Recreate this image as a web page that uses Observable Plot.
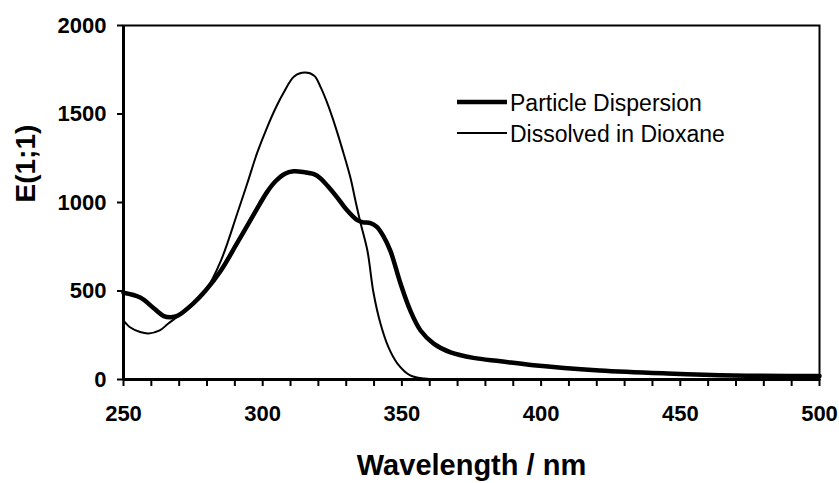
<!DOCTYPE html>
<html>
<head>
<meta charset="utf-8">
<script src="https://cdn.jsdelivr.net/npm/d3@7"></script>
<script src="https://cdn.jsdelivr.net/npm/@observablehq/plot@0.6"></script>
<style>
  html, body { margin: 0; padding: 0; background: #fff; }
  #wrap { position: relative; width: 839px; height: 483px; }
  #legend { position: absolute; left: 0; top: 0; }
</style>
</head>
<body>
<div id="wrap"></div>
<script>
// ---- Data ----
const seriesNames = ["Particle Dispersion", "Dissolved in Dioxane"];

const wavelengthPD = [250, 256, 261, 264.5, 267, 269.4, 275, 279.5, 285, 290.8, 296.7, 301.6, 304.6, 308, 311, 314.7, 318.4, 320.8, 323.5, 326.8, 330, 334, 336, 338.7, 341, 343.4, 345.9, 349.5, 353, 356.7, 361.4, 367.5, 375.7, 385.5, 397.3, 421, 445.4, 469, 500];
const valuesPD     = [490, 463, 401, 358, 352, 360, 429, 503, 616, 770, 930, 1060, 1120, 1163, 1176, 1172, 1160, 1136, 1090, 1028, 962, 900, 888, 884, 862, 808, 725, 542, 390, 277, 203, 153, 122, 103, 80, 51, 34, 23, 20];

const wavelengthDX = [250, 252.5, 256, 259, 263, 266, 269.5, 275, 279.5, 285, 290.8, 294.5, 298, 301.6, 305, 307.5, 311.3, 315.2, 318.5, 320.8, 323, 325, 328.7, 331.5, 333.3, 335.1, 337.6, 339.8, 342.3, 345.2, 348.4, 353, 358, 365, 400, 450, 500];
const valuesDX     = [333, 294, 268, 260, 277, 315, 356, 429, 503, 672, 935, 1110, 1280, 1425, 1545, 1620, 1712, 1734, 1716, 1652, 1570, 1482, 1296, 1141, 1011, 887, 729, 490, 316, 181, 90, 23, 5, 0, 0, 0, 0];

const xTicks = d3.range(250, 501, 10);
const xLabelTicks = [250, 300, 350, 400, 450, 500];
const yTicks = [0, 500, 1000, 1500, 2000];

const xTitle = "Wavelength / nm";
const yTitle = "E(1;1)";

// ---- Build tables ----
const pd = wavelengthPD.map((w, i) => ({w, v: valuesPD[i], s: seriesNames[0]}));
const dx = wavelengthDX.map((w, i) => ({w, v: valuesDX[i], s: seriesNames[1]}));

const FONT = "'Liberation Sans', Arial, Helvetica, sans-serif";

const chart = Plot.plot({
  width: 839,
  height: 483,
  marginLeft: 123,
  marginRight: 20,
  marginTop: 25,
  marginBottom: 104,
  style: {fontFamily: FONT, fontSize: "22px", fontWeight: "bold", color: "black", background: "white", overflow: "visible"},
  x: {domain: [250, 500]},
  y: {domain: [0, 2000]},
  marks: [
    Plot.line(dx, {x: "w", y: "v", stroke: "black", strokeWidth: 2, curve: "catmull-rom"}),
    Plot.line(pd, {x: "w", y: "v", stroke: "black", strokeWidth: 4.5, curve: "catmull-rom"}),
    Plot.frame({stroke: "black", strokeWidth: 2}),
    Plot.ruleX([250], {stroke: "black", strokeWidth: 3}),
    Plot.ruleY([0], {stroke: "black", strokeWidth: 3}),
    Plot.axisX({ticks: xTicks, tickSize: 7, tickPadding: 19, strokeWidth: 2,
      tickFormat: d => xLabelTicks.includes(d) ? String(d) : "", label: null}),
    Plot.axisY({ticks: yTicks, tickSize: 6, tickPadding: 11, strokeWidth: 2,
      tickFormat: d => String(d), label: null}),
    Plot.text([xTitle], {frameAnchor: "bottom", dy: 86, text: d => d, fontSize: 29, fontWeight: "bold", lineAnchor: "middle"}),
    Plot.text([yTitle], {frameAnchor: "left", dx: -97, rotate: -90, text: d => d, fontSize: 28, fontWeight: "bold", lineAnchor: "middle"})
  ]
});

const wrap = document.getElementById("wrap");
wrap.appendChild(chart);

// ---- Legend overlay ----
const legendItems = [
  {name: seriesNames[0], width: 4.5},
  {name: seriesNames[1], width: 2}
];
const leg = d3.select(wrap).append("svg")
  .attr("id", "legend")
  .attr("width", 839).attr("height", 483)
  .style("pointer-events", "none");
legendItems.forEach((it, i) => {
  const yLine = 102 + i * 31;
  leg.append("line")
    .attr("x1", 457).attr("x2", 507)
    .attr("y1", yLine).attr("y2", yLine)
    .attr("stroke", "black").attr("stroke-width", it.width);
  leg.append("text")
    .attr("x", 510).attr("y", yLine + 8.5)
    .attr("font-family", FONT)
    .attr("font-size", 23)
    .attr("fill", "black")
    .text(it.name);
});
</script>
</body>
</html>
